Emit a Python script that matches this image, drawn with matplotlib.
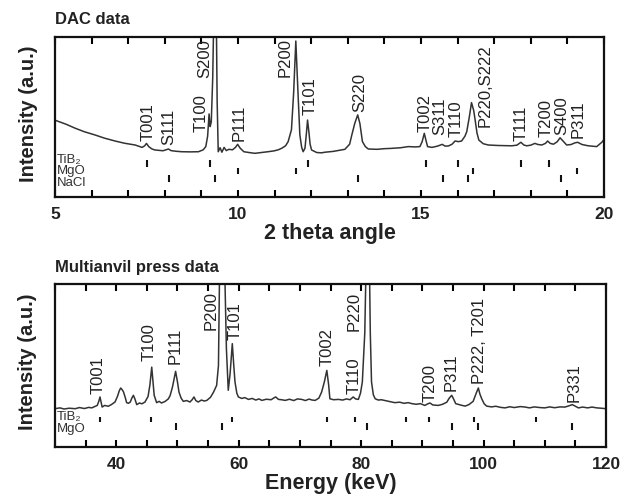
import matplotlib
matplotlib.use("Agg")
import matplotlib.pyplot as plt

plt.rcParams["font.family"] = ["Liberation Sans", "DejaVu Sans"]

# ---- DAC data (2 theta, intensity in % of axis height) ----
dac_x = [5.00, 5.30, 5.55, 5.80, 6.09, 6.35, 6.64, 6.90, 7.19, 7.38, 7.45, 7.50, 7.56,
         7.65, 7.73, 7.95, 8.05, 8.10, 8.17, 8.30, 8.46, 8.70, 8.92, 9.05, 9.12, 9.17,
         9.21, 9.24, 9.27, 9.31, 9.35, 9.40, 9.43, 9.46, 9.51, 9.56, 9.62, 9.68, 9.75,
         9.85, 9.93, 9.99, 10.06, 10.16, 10.30, 10.46, 10.65, 10.82, 10.98, 11.10, 11.19,
         11.30, 11.37, 11.46, 11.52, 11.58, 11.63, 11.69, 11.74, 11.78, 11.83, 11.87, 11.90,
         11.94, 11.97, 12.01, 12.15, 12.28, 12.38, 12.60, 12.92, 13.05, 13.11, 13.19, 13.27,
         13.33, 13.40, 13.48, 13.56, 13.80, 14.00, 14.20, 14.45, 14.65, 14.85, 14.97, 15.03,
         15.09, 15.14, 15.18, 15.30, 15.45, 15.58, 15.66, 15.75, 15.85, 15.93, 16.02, 16.11,
         16.20, 16.25, 16.32, 16.38, 16.44, 16.48, 16.53, 16.58, 16.70, 16.84, 17.10, 17.48,
         17.62, 17.73, 17.81, 17.89, 18.00, 18.11, 18.20, 18.30, 18.40, 18.46, 18.53, 18.62,
         18.72, 18.80, 18.88, 18.98, 19.10, 19.20, 19.28, 19.40, 19.57, 19.80, 19.94, 20.00]
dac_y = [48.0, 45.5, 43.0, 40.8, 38.8, 36.8, 35.0, 33.6, 32.5, 31.0, 32.0, 33.5, 31.5,
         30.0, 29.4, 28.9, 29.6, 30.0, 29.0, 28.6, 28.3, 28.2, 28.3, 29.5, 31.5, 38.0,
         51.9, 44.0, 47.0, 75.0, 130.0, 130.0, 60.0, 28.3, 30.8, 28.0, 31.0, 29.0, 29.8,
         29.5, 31.0, 32.9, 30.5, 28.3, 27.8, 27.3, 27.8, 28.3, 28.8, 29.5, 30.4,
         32.0, 34.6, 42.0, 65.0, 97.5, 70.0, 38.8, 31.0, 28.3, 30.5, 40.0, 48.1,
         40.0, 33.0, 29.4, 27.8, 27.6, 28.0, 28.5, 29.8, 33.0, 38.8, 46.0, 51.3,
         46.0, 34.6, 31.5, 30.0, 29.8, 30.2, 30.4, 30.8, 31.5, 31.3, 31.5, 34.5,
         39.8, 35.0, 31.5, 31.0, 31.8, 32.9, 31.8, 31.9, 33.0, 35.0, 34.6, 35.0,
         38.0, 40.8, 50.0, 59.0, 54.0, 48.0, 40.0, 35.6, 33.3, 32.5, 32.2, 32.0,
         32.4, 34.2, 32.5, 32.0, 32.4, 33.5, 32.8, 32.5, 33.5, 35.0, 33.5, 33.0,
         34.5, 37.0, 35.0, 32.5, 32.8, 33.8, 34.2, 32.8, 32.0, 31.5, 34.2, 36.0]

dac_labels = ["T001", "S111", "T100", "S200", "P111", "P200", "T101", "S220", "T002",
              "S311", "T110", "P220,S222", "T111", "T200", "S400", "P311"]
dac_label_x = [7.55, 8.12, 9.0, 9.1, 10.04, 11.3, 11.96, 13.33, 15.1,
               15.52, 15.96, 16.74, 17.74, 18.41, 18.85, 19.3]
dac_label_y = [35.0, 32.5, 40.8, 74.2, 35.0, 75.2, 51.3, 52.9, 40.8,
               38.8, 37.7, 44.0, 35.0, 37.7, 38.8, 36.7]

dac_tib2 = [7.51, 9.23, 11.91, 15.14, 16.01, 17.73, 18.50]
dac_mgo = [10.0, 11.58, 16.42, 19.26]
dac_nacl = [8.11, 9.37, 13.28, 15.60, 16.28, 18.83]

# ---- Multianvil press data (energy in keV) ----
mav_x = [30.0, 30.8, 31.5, 32.3, 33.3, 34.0, 34.8, 35.5, 36.0, 36.5, 36.9, 37.15, 37.35,
         37.55, 37.7, 38.1, 38.7, 39.2, 39.8, 40.2, 40.5, 40.73, 41.0, 41.2, 41.5, 41.7,
         42.0, 42.3, 42.55, 42.8, 43.05, 43.35, 43.8, 44.2, 44.7, 45.2, 45.5, 45.8, 46.05,
         46.2, 46.6, 47.0, 47.4, 48.0, 48.5, 48.8, 49.2, 49.7, 50.0, 50.25, 50.6, 50.96,
         51.5, 52.05, 52.4, 52.7, 53.0, 53.4, 53.9, 54.4, 54.8, 55.4, 55.9, 56.4, 56.7,
         56.95, 57.6, 58.0, 58.3, 58.6, 58.96, 59.2, 59.4, 59.7, 59.95, 60.5, 61.0, 61.6,
         62.2, 62.8, 63.3, 63.8, 64.5, 65.3, 65.7, 66.05, 66.5, 67.0, 67.6, 68.3, 69.0,
         69.6, 70.3, 70.9, 71.5, 72.0, 72.5, 73.1, 73.55, 74.0, 74.4, 74.7, 74.9, 75.5,
         76.3, 77.0, 77.6, 78.2, 78.7, 79.1, 79.55, 79.9, 80.2, 80.6, 80.9, 81.3, 81.5,
         81.7, 82.0, 82.3, 82.8, 83.3, 83.8, 84.5, 85.5, 86.3, 87.0, 87.7, 88.3, 89.0,
         89.7, 90.4, 90.9, 91.25, 91.7, 92.6, 93.3, 94.0, 94.4, 94.8, 95.1, 95.45, 96.0,
         96.5, 97.0, 97.6, 98.3, 98.8, 99.15, 99.4, 99.7, 100.1, 100.5, 101.3, 102.0,
         102.8, 103.5, 104.3, 105.0, 106.0, 106.8, 107.5, 108.3, 109.2, 110.0, 110.8,
         111.6, 112.5, 113.3, 113.9, 114.5, 115.0, 115.5, 116.2, 117.0, 117.7, 118.5,
         119.2, 120.0]
mav_y = [23.5, 24.0, 23.3, 23.8, 23.5, 24.2, 23.6, 24.3, 24.0, 24.8, 25.5, 28.0, 30.7,
         27.0, 24.5, 25.5, 25.0, 26.0, 27.6, 31.0, 34.5, 36.2, 35.0, 33.7, 30.0, 27.2,
         26.8, 27.6, 30.0, 31.7, 29.5, 26.0, 27.0, 26.5, 27.6, 31.0, 38.0, 49.0, 38.0,
         31.7, 27.2, 28.0, 27.0, 28.0, 29.5, 31.5, 37.0, 46.4, 40.0, 33.7, 30.0, 28.0,
         28.5, 27.6, 29.0, 30.7, 28.5, 27.6, 28.8, 28.2, 28.6, 30.5, 33.7, 37.8, 50.0,
         130.0, 130.0, 60.0, 34.8, 45.0, 63.4, 50.0, 39.9, 33.0, 30.7, 29.8, 30.3, 29.2,
         29.8, 28.8, 29.5, 28.6, 29.3, 29.0, 30.0, 30.7, 29.2, 29.0, 28.6, 29.3, 28.5,
         29.5, 29.2, 28.5, 29.4, 28.8, 28.6, 30.0, 33.7, 40.0, 47.0, 38.0, 29.6, 29.0,
         29.2, 28.8, 29.5, 29.0, 30.7, 29.5, 29.2, 33.0, 39.9, 70.0, 130.0, 130.0, 70.0,
         39.9, 32.0, 29.6, 28.8, 29.0, 28.6, 28.0, 27.2, 27.5, 26.8, 27.2, 26.6, 26.2,
         26.6, 25.5, 26.5, 27.0, 25.8, 25.5, 26.2, 27.5, 30.0, 31.7, 29.5, 26.6, 26.0,
         25.5, 25.1, 26.0, 28.0, 33.0, 36.2, 32.5, 29.6, 26.5, 25.1, 24.6, 25.0,
         24.3, 24.0, 24.7, 24.2, 24.8, 24.5, 24.0, 24.6, 24.2, 24.0, 24.6,
         24.1, 24.6, 24.5, 25.2, 26.0, 25.0, 24.0, 24.5, 24.0, 24.5, 24.0,
         23.8, 23.5]

mav_labels = ["T001", "T100", "P111", "P200", "T101", "T002", "T110", "P220",
              "T200", "P311", "P222, T201", "P331"]
mav_label_x = [37.0, 45.4, 49.7, 55.5, 59.4, 74.4, 78.9, 78.9, 91.25, 94.7, 99.26, 114.8]
mav_label_y = [32.7, 52.6, 51.1, 71.6, 65.5, 49.5, 32.7, 71.0, 27.6, 34.2, 38.8, 27.6]

mav_tib2 = [37.35, 45.7, 58.9, 74.4, 79.0, 87.3, 91.1, 98.4, 108.6]
mav_mgo = [49.7, 57.2, 80.9, 94.9, 99.1, 114.4]

TXT = "#222222"
LINE = "#333333"
PEAK_FS = 12
ROW_FS = 9.5

fig = plt.figure(figsize=(6.22, 4.94), dpi=100)
ax1 = fig.add_axes([55 / 622, 1 - 197 / 494, 549 / 622, 160 / 494])
ax2 = fig.add_axes([55 / 622, 1 - 447 / 494, 551 / 622, 163 / 494])


def style_axes(ax, xmin, xmax, step, label_step, xlabel):
    ax.set_xlim(xmin, xmax)
    ax.set_ylim(0, 100)
    ticks = list(range(xmin, xmax + 1, step))
    ax.set_xticks(ticks)
    ax.set_xticklabels([str(t) if t % label_step == 0 else "" for t in ticks],
                       fontsize=12.5, fontweight="bold", color=TXT)
    ax.tick_params(axis="x", direction="in", top=True, length=5, width=1.5, pad=7)
    ax.set_yticks([])
    for s in ax.spines.values():
        s.set_linewidth(1.6)
        s.set_color("#111111")
    ax.set_xlabel(xlabel, fontsize=15.5, fontweight="bold", color=TXT)
    ax.xaxis.set_label_coords(0.5, -0.225)
    ax.xaxis.label.set_va("center")
    ax.set_ylabel("Intensity (a.u.)", fontsize=14.5, fontweight="bold", color=TXT)
    ax.yaxis.set_label_coords(-27 / 549, 0.52)
    ax.yaxis.label.set_va("center")


# top panel
ax1.plot(dac_x, dac_y, color=LINE, lw=1.1)
for lab, x, y in zip(dac_labels, dac_label_x, dac_label_y):
    ax1.text(x, y, lab, rotation=90, ha="center", va="bottom", fontsize=PEAK_FS, color=TXT)
ax1.vlines(dac_tib2, 19.0, 23.2, color="#111111", lw=1.5)
ax1.vlines(dac_mgo, 14.2, 18.4, color="#111111", lw=1.5)
ax1.vlines(dac_nacl, 9.4, 13.7, color="#111111", lw=1.5)
for lab, y in zip(["TiB₂", "MgO", "NaCl"], [23.3, 16.0, 8.8]):
    ax1.text(5.04, y, lab, fontsize=ROW_FS, color="#333333", va="center", ha="left")
style_axes(ax1, 5, 20, 1, 5, "2 theta angle")
fig.text(55 / 622, 1 - 20 / 494, "DAC data", fontsize=12, fontweight="bold",
         color=TXT, ha="left", va="center")

# bottom panel
ax2.plot(mav_x, mav_y, color=LINE, lw=1.1)
for lab, x, y in zip(mav_labels, mav_label_x, mav_label_y):
    ax2.text(x, y, lab, rotation=90, ha="center", va="bottom", fontsize=PEAK_FS, color=TXT)
ax2.vlines(mav_tib2, 15.3, 18.6, color="#111111", lw=1.5)
ax2.vlines(mav_mgo, 10.2, 14.7, color="#111111", lw=1.5)
for lab, y in zip(["TiB₂", "MgO"], [18.4, 10.9]):
    ax2.text(30.25, y, lab, fontsize=ROW_FS, color="#333333", va="center", ha="left")
style_axes(ax2, 30, 120, 5, 20, "Energy (keV)")
fig.text(55 / 622, 1 - 267 / 494, "Multianvil press data", fontsize=12,
         fontweight="bold", color=TXT, ha="left", va="center")

fig.savefig("out.png", dpi=100)
plt.close(fig)
